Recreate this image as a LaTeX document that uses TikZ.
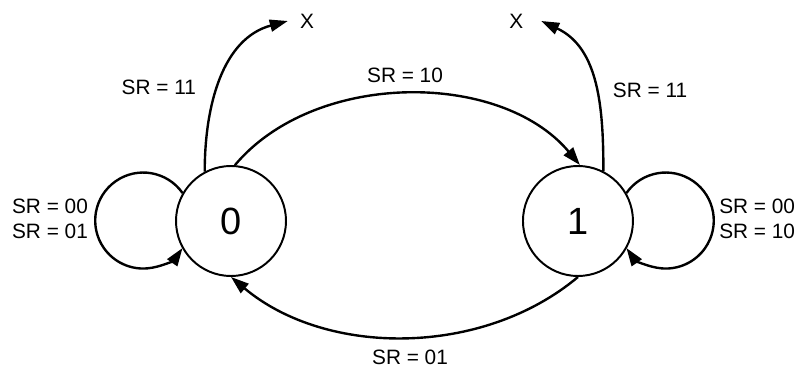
\documentclass[tikz,border=0pt]{standalone}
\usepackage{fontspec}
\setmainfont{Liberation Sans}
\usetikzlibrary{arrows.meta, positioning}

\begin{document}
\begin{tikzpicture}[>={Triangle[length=0.45cm,width=0.3cm]},
  state/.style={circle, draw, line width=1.4pt, minimum size=2.75cm, inner sep=0pt,
    font=\fontsize{27}{30}\selectfont},
  edge/.style={->, line width=1.7pt},
  lbl/.style={font=\fontsize{14.8}{17.8}\selectfont, align=center},
  xend/.style={lbl, inner sep=0.3cm}]
  \useasboundingbox (0,0) rectangle (19.95,9.525);
  \node[state] (s0) at (5.775,4.0) {0};
  \node[state, right=5.875cm of s0] (s1) {1};
  \node[xend] (x0) at (7.675,9.0) {X};
  \node[xend, inner xsep=0.44cm] (x1) at (12.91,9.0) {X};
  \draw[edge] (s0.118) to[out=90, in=195] (x0.west);
  \draw[edge] (s1.63) to[out=90, in=-25] (x1.east);
  \draw[edge] (s0.86) to[out=50, in=130, looseness=0.92] (s1.88);
  \draw[edge] (s1.270) to[out=220, in=-40, looseness=0.92] (s0.270);
  \draw[edge] (s0.150) arc[start angle=35, end angle=325, radius=1.2cm];
  \draw[edge] (s1.30) arc[start angle=145, end angle=-145, radius=1.2cm];
  \node[lbl] (l0) at (1.25,4.06) {SR = 00\\SR = 01};
  \node[lbl] (l1) at (18.93,4.06) {SR = 00\\SR = 10};
  \node[lbl] (l11a) at (3.97,7.33) {SR = 11};
  \node[lbl] (l11b) at (16.25,7.275) {SR = 11};
  \node[lbl] (l10) at (10.125,7.65) {SR = 10};
  \node[lbl] (l01) at (10.25,0.6) {SR = 01};
\end{tikzpicture}
\end{document}
